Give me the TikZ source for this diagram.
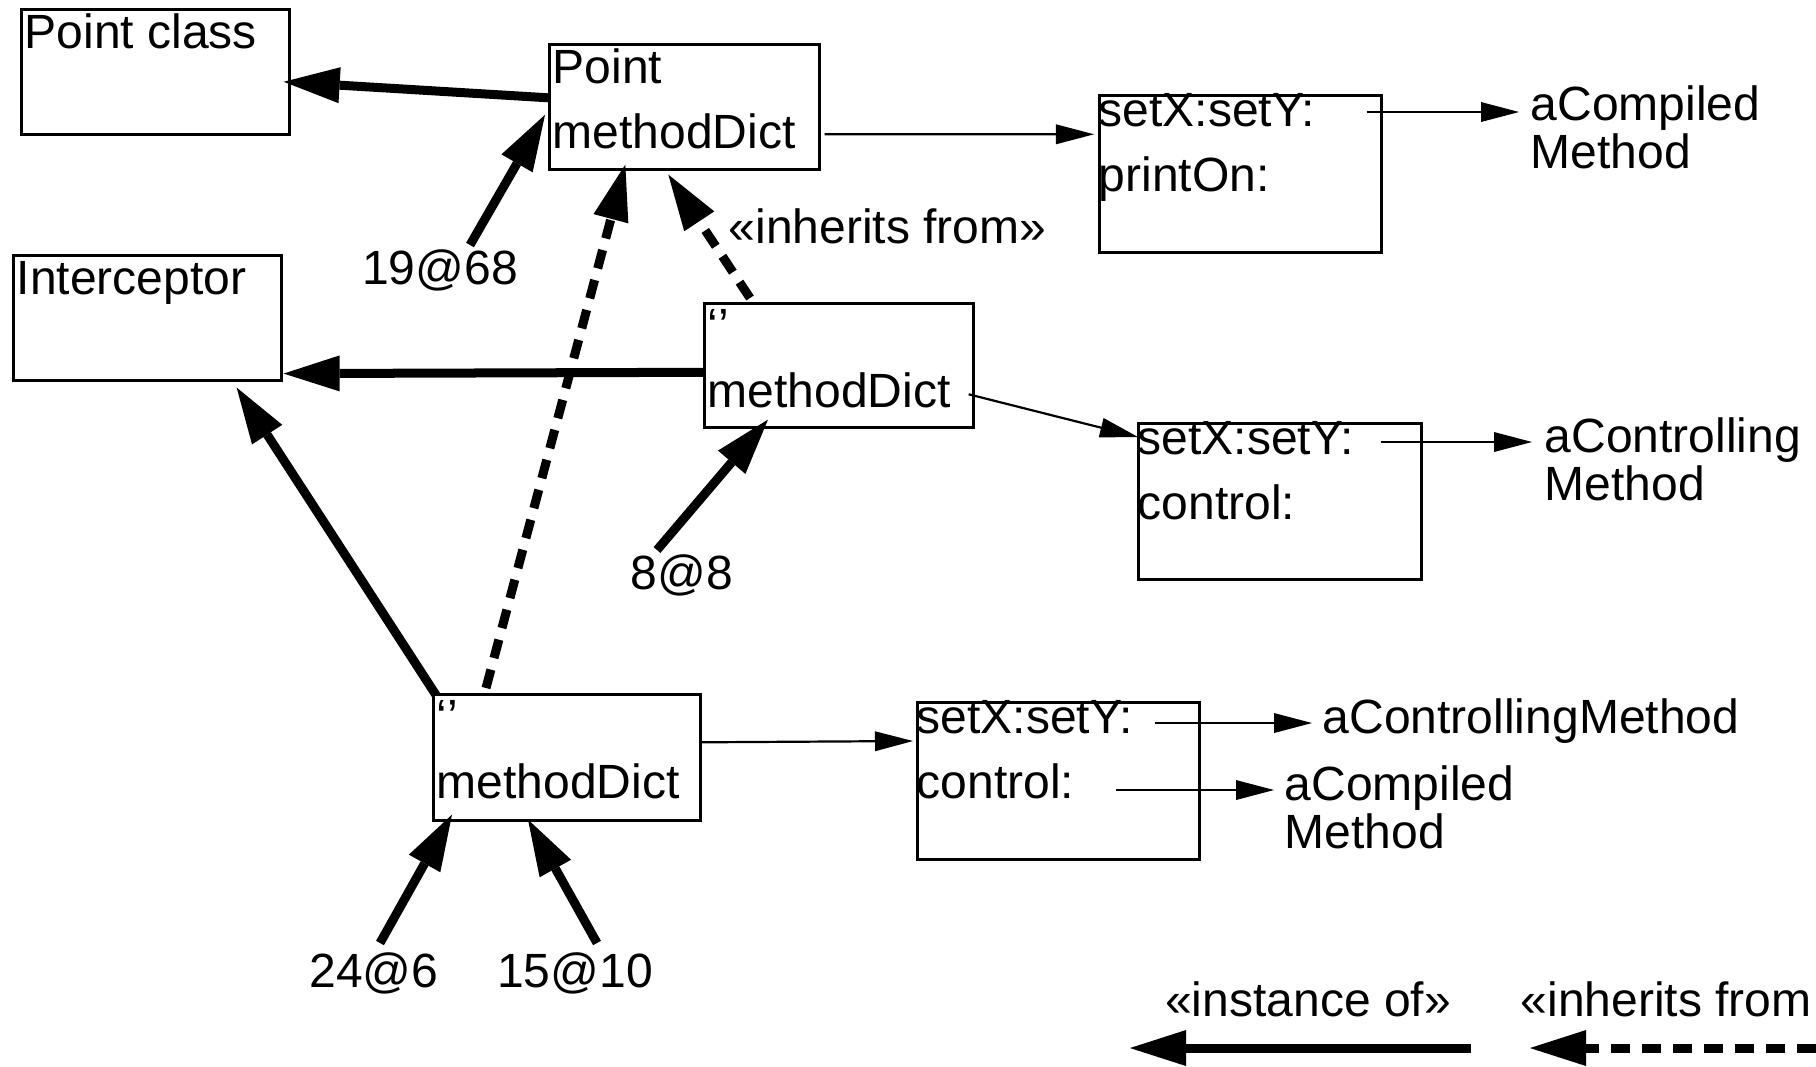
\documentclass[tikz,border=0pt]{standalone}
\usepackage{fontspec}
\setmainfont{Liberation Sans}
\usetikzlibrary{positioning,arrows.meta}
\newcommand{\capstrut}{\rule{0pt}{0.35cm}}

\begin{document}
\begin{tikzpicture}[
    x=0.01cm, y=-0.01cm,
    font=\fontsize{13.66pt}{18.5pt}\selectfont,
    objbox/.style={draw, line width=0.025cm, minimum width=2.68cm, minimum height=1.25cm, anchor=north west, inner sep=0pt},
    dictbox/.style={draw, line width=0.025cm, minimum width=2.82cm, minimum height=1.57cm, anchor=north west, inner sep=0pt},
    entries/.style={anchor=north west, align=left, inner sep=0pt},
    target/.style={anchor=north west, align=left, inner sep=0pt, font=\fontsize{13.66pt}{13.5pt}\selectfont},
    oid/.style={anchor=base, inner sep=0pt},
    inst/.style={-{Triangle[length=0.56cm, width=0.36cm, line width=0pt]}, line width=0.09cm},
    inh/.style={inst, dash pattern=on 0.19cm off 0.12cm},
    ref/.style={-{Triangle[length=0.38cm, width=0.2cm, line width=0pt]}, line width=0.022cm},
]
\useasboundingbox (0,0) rectangle (1816,1066);

\node[objbox] (ptclass) at (20,8) {};
\node[objbox, minimum width=2.70cm] (point) at (548,43) {};
\node[objbox] (icpt) at (12,254) {};
\node[objbox, minimum width=2.69cm, minimum height=1.24cm] (midd) at (703,302) {};
\node[objbox, minimum width=2.67cm, minimum height=1.26cm] (botd) at (432,693) {};
\node[dictbox] (dictA) at (1098,94) {};
\node[dictbox, minimum width=2.83cm, minimum height=1.56cm] (dictB) at (1137,422) {};
\node[dictbox] (dictC) at (916,701) {};

\node[entries] (ptclassT) at ([shift={(4,5)}]ptclass.north west) {\capstrut Point class};
\node[entries] (pointT) at ([shift={(4,5)}]point.north west) {\capstrut Point\\methodDict};
\node[entries] (icptT) at ([shift={(4,5)}]icpt.north west) {\capstrut Interceptor};
\node[entries] (middT) at ([shift={(4,5)}]midd.north west) {\capstrut ‘’\\methodDict};
\node[entries] (botdT) at ([shift={(4,5)}]botd.north west) {\capstrut ‘’\\methodDict};
\node[entries] (dictAT) at ([shift={(0,-3)}]dictA.north west) {\capstrut setX:setY:\\printOn:};
\node[entries] (dictBT) at ([shift={(0,-3)}]dictB.north west) {\capstrut setX:setY:\\control:};
\node[entries] (dictCT) at ([shift={(0,-3)}]dictC.north west) {\capstrut setX:setY:\\control:};

\node[target] (cmA) at (1530,85) {\capstrut aCompiled\\Method};
\node[target] (cmB) at (1544,417) {\capstrut aControlling\\Method};
\node[target] (cmC) at (1322,698) {\capstrut aControllingMethod};
\node[target] (cmD) at (1284,765) {\capstrut aCompiled\\Method};

\node[oid] (l1968) at (440,284) {19@68};
\node[oid] (l88) at (682,589) {8@8};
\node[oid] (l246) at (374,987) {24@6};
\node[oid] (l1510) at (575,987) {15@10};
\node[anchor=base west, inner sep=0pt] (inhL) at (728,243) {«inherits from»};
\node[oid] (legInst) at (1308,1016) {«instance of»};
\node[anchor=base west, inner sep=0pt] (legInh) at (1520,1016) {«inherits from};

\draw[inst] ([shift={(0,-9)}]point.west) -- ([shift={(-7,10)}]ptclass.east);
\draw[inst] ([shift={(30,-39)}]l1968.base) -- ([shift={(-3,8)}]point.west);
\draw[ref] ([shift={(4,27.5)}]point.east) -- ([shift={(-4,-39.5)}]dictA.west);
\draw[ref] ([shift={(-16,18)}]dictA.north east) -- ([shift={(-11,27)}]cmA.north west);

\draw[inh] ([shift={(47,-4)}]midd.north west) -- ([shift={(-16,4)}]point.south);
\draw[inh] ([shift={(54,-5)}]botd.north west) -- ([shift={(-59,-6)}]point.south);
\draw[inst] ([shift={(0,7)}]midd.west) -- ([shift={(1,-8)}]icpt.south east);
\draw[inst] ([shift={(-25,-39)}]l88.base) -- ([shift={(65,-9)}]midd.south west);
\draw[ref] ([shift={(-6,29)}]midd.east) -- ([shift={(1,15)}]dictB.north west);
\draw[ref] ([shift={(-42,20)}]dictB.north east) -- ([shift={(-12,25)}]cmB.north west);

\draw[inst] ([shift={(4,2)}]botd.north west) -- ([shift={(-46,6)}]icpt.south east);
\draw[ref] ([shift={(0,-15)}]botd.east) -- ([shift={(-3,40)}]dictC.north west);
\draw[ref] ([shift={(239,22)}]dictC.north west) -- ([shift={(-10,25)}]cmC.north west);
\draw[ref] ([shift={(200,89)}]dictC.north west) -- ([shift={(-10,25)}]cmD.north west);
\draw[inst] ([shift={(6,-44)}]l246.base) -- ([shift={(20,-7)}]botd.south west);
\draw[inst] ([shift={(22,-44)}]l1510.base) -- ([shift={(96,-2)}]botd.south west);

\coordinate (instFrom) at (1471,1048);
\coordinate (instTo) at (1130,1048);
\coordinate (inhFrom) at (1816,1048);
\coordinate (inhTo) at (1530,1048);
\draw[inst] (instFrom) -- (instTo);
\draw[inh] (inhFrom) -- (inhTo);
\end{tikzpicture}
\end{document}
